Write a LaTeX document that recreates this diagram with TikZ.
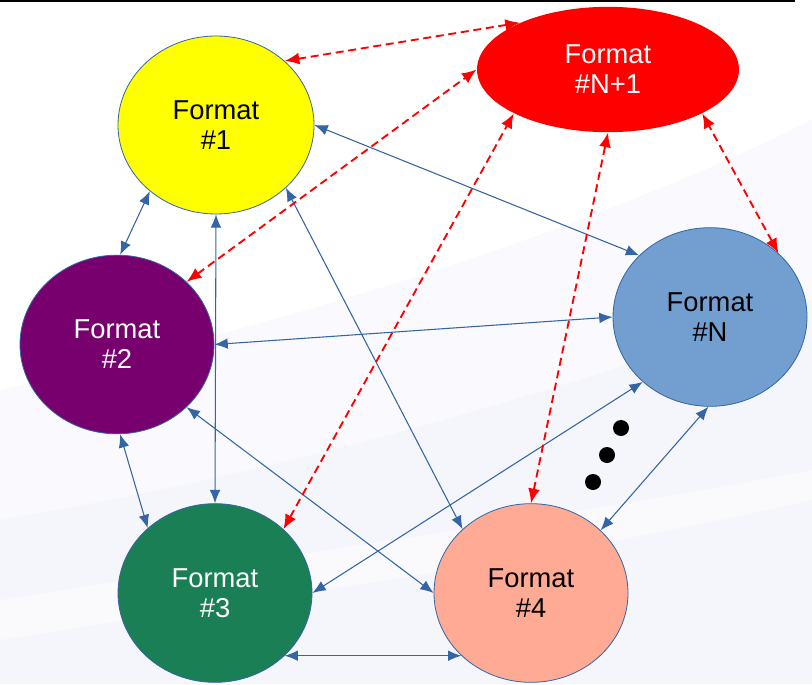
\documentclass[tikz,border=0pt]{standalone}
\usepackage{fontspec}
\setmainfont{Liberation Sans}
\usepackage{tikz}
\usetikzlibrary{arrows.meta}
\usetikzlibrary{shapes.geometric}
\definecolor{edge}{rgb}{0.204, 0.396, 0.643}
\definecolor{fmtyellow}{rgb}{1, 1, 0}
\definecolor{fmtred}{rgb}{1, 0, 0}
\definecolor{fmtpurple}{rgb}{0.467, 0, 0.431}
\definecolor{fmtblue}{rgb}{0.447, 0.624, 0.812}
\definecolor{fmtgreen}{rgb}{0.102, 0.498, 0.333}
\definecolor{fmtsalmon}{rgb}{1, 0.667, 0.584}
\definecolor{bgone}{rgb}{0.982, 0.982, 0.997}
\definecolor{bgtwo}{rgb}{0.962, 0.962, 0.99}

\begin{document}
\begin{tikzpicture}[x=0.75pt, y=-0.75pt,
    fmt/.style={ellipse, draw=edge, line width=0.6pt, inner sep=0pt,
      minimum width=145.5pt, minimum height=134pt, align=center,
      font=\fontsize{20.5}{22.5}\selectfont},
    link/.style={{Latex[length=10pt,width=8pt]}-{Latex[length=10pt,width=8pt]},
      edge, line width=0.8pt},
    newlink/.style={{Latex[length=11pt,width=9pt]}-{Latex[length=11pt,width=9pt]},
      fmtred, line width=1.4pt, dash pattern=on 6pt off 3.5pt}]
  \useasboundingbox (0,0) rectangle (812,684);
  % background
  \fill[white] (0,0) rectangle (812,684);
  \fill[bgone] (0,390) .. controls (250,330) and (550,250) .. (812,120)
    -- (812,684) -- (0,684) -- cycle;
  \fill[bgtwo] (0,520) .. controls (300,470) and (600,380) .. (812,300)
    -- (812,684) -- (0,684) -- cycle;
  \fill[white, opacity=0.5] (0,600) .. controls (250,560) and (550,520) .. (812,470)
    -- (812,500) .. controls (550,560) and (250,600) .. (0,640) -- cycle;
  \draw[line width=1.5pt] (0,0.8) -- (795,0.8);

  % formats
  \node[fmt, fill=fmtyellow, minimum width=147pt, minimum height=133.5pt] (f1) at (216,125) {Format\\\#1};
  \node[fmt, fill=fmtred, draw=none, text=white, minimum width=196.5pt, minimum height=94pt] (fnew) at (608,69.5) {Format\\\#N+1};
  \node[fmt, fill=fmtpurple, text=white] (f2) at (117,344.5) {Format\\\#2};
  \node[fmt, fill=fmtblue] (fn) at (710,317) {Format\\\#N};
  \node[fmt, fill=fmtgreen, text=white] (f3) at (215,593) {Format\\\#3};
  \node[fmt, fill=fmtsalmon] (f4) at (531,593) {Format\\\#4};

  % existing conversions
  \draw[link] (f1.225) -- (f2.88);
  \draw[link] (f1.270) -- (f3.90);
  \draw[link] (f1.0) -- (fn.139);
  \draw[link] (f1.318) -- (f4.137);
  \draw[link] (f2.0) -- (fn.180);
  \draw[link] (f2.272) -- (f3.136);
  \draw[link] (f2.318) -- (f4.180);
  \draw[link] (f3.0) -- (fn.224);
  \draw[link] (f3.318) -- (f4.222);
  \draw[link] (f4.42) -- (fn.269);

  % new format
  \draw[newlink] (f1.43) -- (fnew.152);
  \draw[newlink] (f2.42) -- (fnew.180);
  \draw[newlink] (f3.43) -- (fnew.205);
  \draw[newlink] (f4.90) -- (fnew.270);
  \draw[newlink] (fn.43) -- (fnew.335);

  % more formats
  \foreach \x/\y in {621/428, 607/455, 593/482}
    \fill (\x,\y) circle[radius=6pt];
\end{tikzpicture}
\end{document}
